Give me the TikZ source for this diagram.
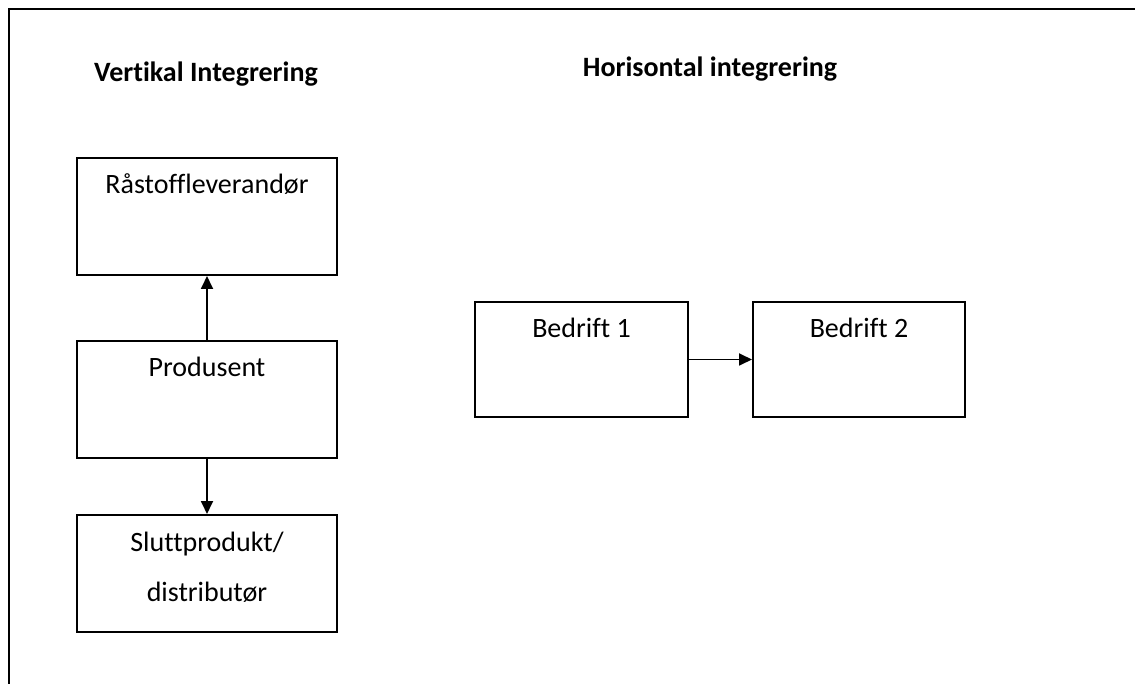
\documentclass[tikz,border=0pt]{standalone}
\usepackage{fontspec}
\setmainfont{Carlito}[Ligatures=NoCommon]
\usetikzlibrary{arrows.meta,positioning}

\tikzset{
  boks/.style={draw,line width=2pt,minimum width=260pt,minimum height=117pt,inner sep=0pt},
  boksnavn/.style={anchor=base,yshift=-37pt,font=\fontsize{28}{34}\selectfont,align=center},
  tittel/.style={anchor=base,font=\fontsize{28}{34}\selectfont\bfseries},
  pil/.style={-{Triangle[length=13pt,width=12pt]},line width=1.8pt},
}

\begin{document}
\begin{tikzpicture}[x=1pt,y=-1pt]
  \useasboundingbox (0,0) rectangle (1135,684);
  \draw[line width=2.4pt] (9,684) -- (9,9) -- (1135,9);

  % vertikal
  \node[tittel] (vtit) at (206,82) {Vertikal Integrering};
  \node[boks,label={[boksnavn]north:Råstoffleverandør}] (raa) at (207,216.5) {};
  \node[boks,below=64pt of raa,label={[boksnavn]north:Produsent}] (prod) {};
  \node[boks,below=55pt of prod,label={[boksnavn,yshift=-50pt]north:Sluttprodukt/\\[16pt]distributør}] (slutt) {};
  \draw[pil] (prod) -- (raa);
  \draw[pil] (prod) -- (slutt);

  % horisontal
  \node[tittel] (htit) at (710,77) {Horisontal integrering};
  \node[boks,minimum width=213pt,minimum height=115pt,label={[boksnavn]north:Bedrift 1}] (b1) at (581.5,359.5) {};
  \node[boks,minimum width=212pt,minimum height=115pt,right=63pt of b1,label={[boksnavn]north:Bedrift 2}] (b2) {};
  \draw[pil] (b1) -- (b2);
\end{tikzpicture}
\end{document}
